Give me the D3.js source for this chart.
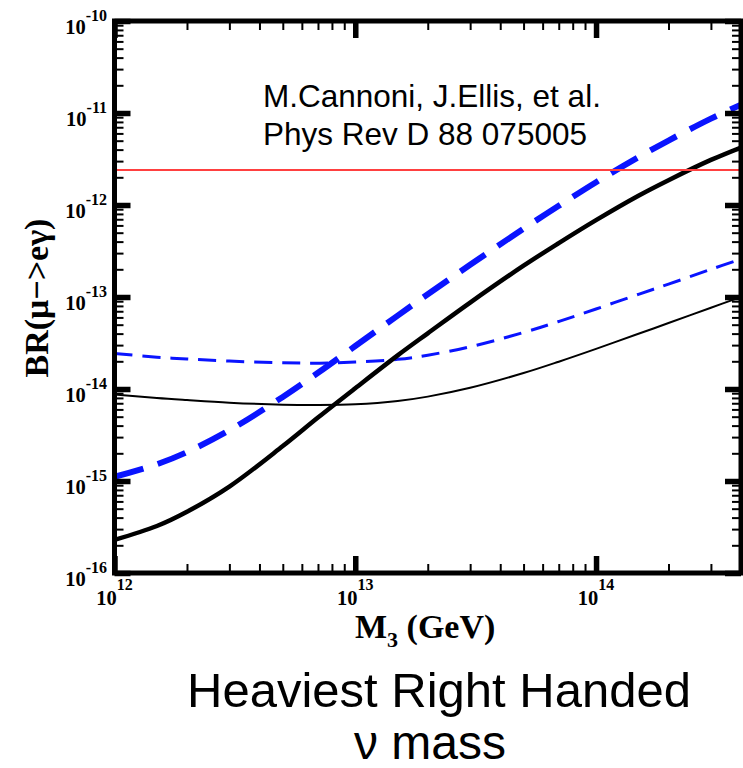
<!DOCTYPE html>
<html>
<head>
<meta charset="utf-8">
<script src="https://cdn.jsdelivr.net/npm/d3@7"></script>
<style>
    body { margin: 0; background: #fff; }
    svg { display: block; }
</style>
</head>
<body>
<div id="chart"></div>
<script>
// heavy neutrino mass M3 (GeV)
var massGeV = [1e12, 1.5e12, 2e12, 3e12, 5e12, 7e12, 1e13, 1.5e13, 2e13, 3e13, 5e13, 7e13, 1e14, 1.5e14, 2e14, 3e14, 4e14];

// BR(mu -> e gamma) for the four scenarios
var brThickSolid = [2.29e-16, 3.24e-16, 4.63e-16, 8.69e-16, 2.4e-15, 4.9e-15, 1.02e-14, 2.32e-14, 4.03e-14, 8.7e-14, 2.19e-13, 3.85e-13, 6.84e-13, 1.26e-12, 1.86e-12, 3.09e-12, 4.22e-12];
var brThickDashed = [1.11e-15, 1.52e-15, 2.06e-15, 3.56e-15, 8.2e-15, 1.5e-14, 2.93e-14, 6.28e-14, 1.07e-13, 2.24e-13, 5.53e-13, 9.79e-13, 1.77e-12, 3.31e-12, 5.02e-12, 8.69e-12, 1.23e-11];
var brThinDashed = [2.43e-14, 2.22e-14, 2.12e-14, 2.01e-14, 1.93e-14, 1.91e-14, 1.96e-14, 2.1e-14, 2.33e-14, 2.88e-14, 4.11e-14, 5.42e-14, 7.41e-14, 1.07e-13, 1.38e-13, 2.0e-13, 2.58e-13];
var brThinSolid = [8.71e-15, 7.96e-15, 7.57e-15, 7.11e-15, 6.76e-15, 6.7e-15, 6.82e-15, 7.4e-15, 8.26e-15, 1.03e-14, 1.49e-14, 1.98e-14, 2.73e-14, 3.98e-14, 5.21e-14, 7.64e-14, 1.0e-13];

// experimental upper limit
var megLimit = 2.4e-12;

// tick exponents
var xExponents = [12, 13, 14];
var yExponents = [-16, -15, -14, -13, -12, -11, -10];

var width = 743, height = 768;
var plotLeft = 114.5, plotRight = 741, plotTop = 21, plotBottom = 573;
var serif = '"Liberation Serif", "Times New Roman", serif';
var sans = '"Liberation Sans", Arial, sans-serif';

var svg = d3.select('#chart').append('svg')
    .attr('width', width)
    .attr('height', height);

var x = d3.scaleLog()
    .domain([1e12, 4e14])
    .range([plotLeft, plotRight]);

var y = d3.scaleLog()
    .domain([1e-16, 1e-10])
    .range([plotBottom, plotTop]);

svg.append('clipPath')
    .attr('id', 'plot-clip')
    .append('rect')
    .attr('x', plotLeft)
    .attr('y', plotTop)
    .attr('width', plotRight - plotLeft)
    .attr('height', plotBottom - plotTop);

var gPlot = svg.append('g')
    .attr('clip-path', 'url(#plot-clip)');

var line = d3.line()
    .x(function(d) { return x(d[0]); })
    .y(function(d) { return y(d[1]); })
    .curve(d3.curveCatmullRom.alpha(0.5));

var series = [
    { values: brThinSolid, color: '#000', width: 2, dash: null },
    { values: brThinDashed, color: '#0a14ff', width: 3, dash: '18,10' },
    { values: brThickSolid, color: '#000', width: 4.5, dash: null },
    { values: brThickDashed, color: '#0a14ff', width: 6, dash: '30,15' }
];

series.forEach(function(s) {
    gPlot.append('path')
        .datum(massGeV.map(function(m, i) { return [m, s.values[i]]; }))
        .attr('d', line)
        .attr('fill', 'none')
        .attr('stroke', s.color)
        .attr('stroke-width', s.width)
        .attr('stroke-dasharray', s.dash);
});

// MEG limit
gPlot.append('line')
    .attr('x1', plotLeft)
    .attr('x2', plotRight)
    .attr('y1', y(megLimit))
    .attr('y2', y(megLimit))
    .attr('stroke', '#ff4040')
    .attr('stroke-width', 2);

// ticks
var xMajor = xExponents.map(function(e) { return Math.pow(10, e); });
var yMajor = yExponents.map(function(e) { return Math.pow(10, e); });
var xMinor = [], yMinor = [];
xExponents.forEach(function(e) {
    for (var k = 2; k <= 9; k++) {
        var v = k * Math.pow(10, e);
        if (v < 4e14) xMinor.push(v);
    }
});
yExponents.slice(0, -1).forEach(function(e) {
    for (var k = 2; k <= 9; k++) yMinor.push(k * Math.pow(10, e));
});

function drawTicks(axis, tx, ty, values, size, stroke) {
    var g = svg.append('g')
        .attr('transform', `translate(${tx}, ${ty})`)
        .call(axis.tickValues(values).tickSize(-size).tickFormat(''));
    g.select('.domain').remove();
    g.selectAll('.tick line')
        .attr('stroke', '#000')
        .attr('stroke-width', stroke);
}

drawTicks(d3.axisLeft(y), plotLeft, 0, yMinor, 9, 2);
drawTicks(d3.axisRight(y), plotRight, 0, yMinor, 9, 2);
drawTicks(d3.axisLeft(y), plotLeft, 0, yMajor, 16, 5.5);
drawTicks(d3.axisRight(y), plotRight, 0, yMajor, 16, 5.5);
drawTicks(d3.axisBottom(x), 0, plotBottom, xMinor, 9, 2);
drawTicks(d3.axisTop(x), 0, plotTop, xMinor, 9, 2);
drawTicks(d3.axisBottom(x), 0, plotBottom, xMajor, 17, 5.5);
drawTicks(d3.axisTop(x), 0, plotTop, xMajor, 17, 5.5);

// frame
svg.append('rect')
    .attr('x', plotLeft)
    .attr('y', plotTop)
    .attr('width', plotRight - plotLeft)
    .attr('height', plotBottom - plotTop)
    .attr('fill', 'none')
    .attr('stroke', '#000')
    .attr('stroke-width', 5);

// y tick labels
yExponents.forEach(function(e) {
    var t = svg.append('text')
        .attr('x', 107)
        .attr('y', y(Math.pow(10, e)) + 12.5)
        .attr('font-family', serif)
        .attr('font-weight', 'bold')
        .attr('font-size', '20.5px')
        .attr('text-anchor', 'end')
        .text('10');
    t.append('tspan')
        .attr('dy', -13)
        .attr('font-size', '16px')
        .text(e);
});

// x tick labels
xExponents.forEach(function(e) {
    var t = svg.append('text')
        .attr('x', x(Math.pow(10, e)))
        .attr('y', 605)
        .attr('font-family', serif)
        .attr('font-weight', 'bold')
        .attr('font-size', '20.5px')
        .attr('text-anchor', 'middle')
        .text('10');
    t.append('tspan')
        .attr('dy', -15)
        .attr('font-size', '16px')
        .text(e);
});

// axis titles
var xTitle = svg.append('text')
    .attr('x', 355)
    .attr('y', 638)
    .attr('font-family', serif)
    .attr('font-weight', 'bold')
    .attr('font-size', '34px')
    .text('M');
xTitle.append('tspan')
    .attr('dy', 9)
    .attr('font-size', '22px')
    .text('3');
xTitle.append('tspan')
    .attr('dy', -9)
    .text(' (GeV)');

svg.append('text')
    .attr('transform', 'translate(48, 298) rotate(-90)')
    .attr('font-family', serif)
    .attr('font-weight', 'bold')
    .attr('font-size', '34px')
    .attr('text-anchor', 'middle')
    .text('BR(μ−>eγ)');

// reference note
svg.append('text')
    .attr('x', 263)
    .attr('y', 107)
    .attr('font-family', sans)
    .attr('font-size', '31.5px')
    .text('M.Cannoni, J.Ellis, et al.');
svg.append('text')
    .attr('x', 263)
    .attr('y', 145)
    .attr('font-family', sans)
    .attr('font-size', '31.5px')
    .text('Phys Rev D 88 075005');

// caption
svg.append('text')
    .attr('x', 439)
    .attr('y', 707)
    .attr('font-family', sans)
    .attr('font-size', '49px')
    .attr('text-anchor', 'middle')
    .text('Heaviest Right Handed');
svg.append('text')
    .attr('x', 430)
    .attr('y', 759)
    .attr('font-family', sans)
    .attr('font-size', '48px')
    .attr('text-anchor', 'middle')
    .text('ν mass');
</script>
</body>
</html>
